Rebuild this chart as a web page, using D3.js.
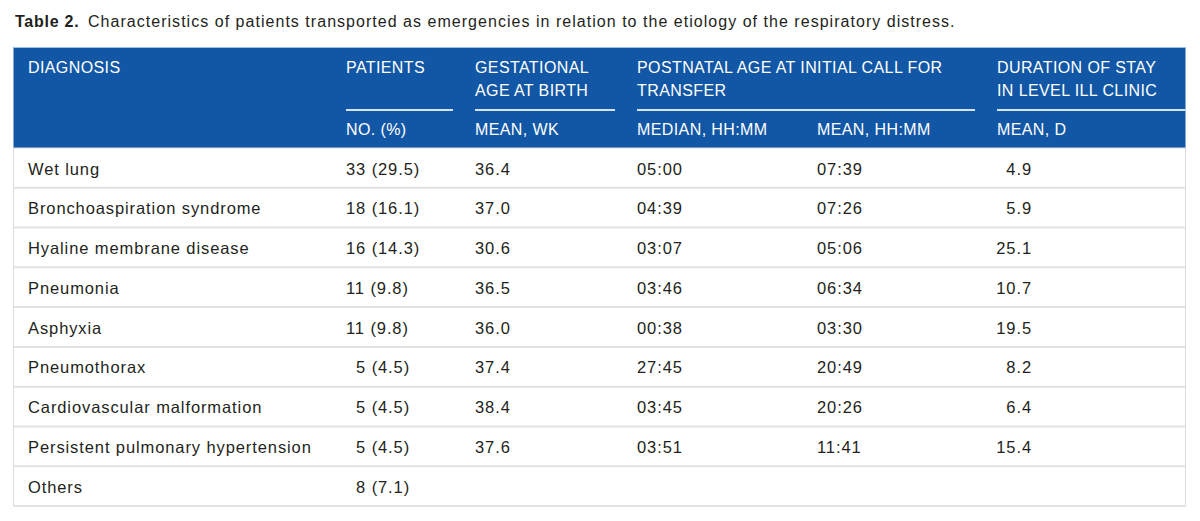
<!DOCTYPE html>
<html>
<head>
<meta charset="utf-8">
<script src="https://cdn.jsdelivr.net/npm/d3@7"></script>
<style>
  html, body { margin: 0; padding: 0; background: #fff; }
  svg { display: block; font-family: "Liberation Sans", Arial, Helvetica, sans-serif; }
</style>
</head>
<body>
<svg id="chart" width="1200" height="521"></svg>
<script>
// ---------- data ----------
const titleBold = "Table 2.";
const titleText = "Characteristics of patients transported as emergencies in relation to the etiology of the respiratory distress.";

const diagnoses = [
  "Wet lung",
  "Bronchoaspiration syndrome",
  "Hyaline membrane disease",
  "Pneumonia",
  "Asphyxia",
  "Pneumothorax",
  "Cardiovascular malformation",
  "Persistent pulmonary hypertension",
  "Others"
];
const patients = ["33 (29.5)", "18 (16.1)", "16 (14.3)", "11 (9.8)", "11 (9.8)", "5 (4.5)", "5 (4.5)", "5 (4.5)", "8 (7.1)"];
const gestationalAge = ["36.4", "37.0", "30.6", "36.5", "36.0", "37.4", "38.4", "37.6", ""];
const postnatalMedian = ["05:00", "04:39", "03:07", "03:46", "00:38", "27:45", "03:45", "03:51", ""];
const postnatalMean = ["07:39", "07:26", "05:06", "06:34", "03:30", "20:49", "20:26", "11:41", ""];
const stayMean = ["4.9", "5.9", "25.1", "10.7", "19.5", "8.2", "6.4", "15.4", ""];

const headerGroups = [
  { key: "diag", lines: ["DIAGNOSIS"], from: "diag", to: "diag", rule: false },
  { key: "pat", lines: ["PATIENTS"], from: "pat", to: "pat", rule: true },
  { key: "ga", lines: ["GESTATIONAL", "AGE AT BIRTH"], from: "ga", to: "ga", rule: true },
  { key: "pn", lines: ["POSTNATAL AGE AT INITIAL CALL FOR", "TRANSFER"], from: "pnMed", to: "pnMean", rule: true },
  { key: "stay", lines: ["DURATION OF STAY", "IN LEVEL ILL CLINIC"], from: "stay", to: "stay", rule: true }
];
const subHeaders = [
  { col: "pat", text: "NO. (%)" },
  { col: "ga", text: "MEAN, WK" },
  { col: "pnMed", text: "MEDIAN, HH:MM" },
  { col: "pnMean", text: "MEAN, HH:MM" },
  { col: "stay", text: "MEAN, D" }
];

// ---------- layout ----------
const tableLeft = 13.5, tableRight = 1185.5;
const headerTop = 47, headerBottom = 148, tableBottom = 506;
const colKeys = ["diag", "pat", "ga", "pnMed", "pnMean", "stay"];
const colStart = d3.scaleOrdinal().domain(colKeys).range([28, 346, 475, 637, 817, 997]);
const colEnd = d3.scaleOrdinal().domain(colKeys).range([324, 453, 615, 795, 975, tableRight]);

const svg = d3.select("#chart");
const blue = "#1257a5";
const ink = "#231f20";
const bodySize = 16.5, bodySpacing = 0.9, headSpacing = 0.4;

// title
const title = svg.append("text").attr("x", 15).attr("y", 26.5)
  .attr("font-size", 16).attr("fill", ink);
title.append("tspan").attr("font-weight", "bold").attr("letter-spacing", 0.75).text(titleBold);
title.append("tspan").attr("x", 88).attr("letter-spacing", 1.03).text(titleText);

// header background
svg.append("rect").attr("x", tableLeft).attr("y", headerTop)
  .attr("width", tableRight - tableLeft).attr("height", headerBottom - headerTop)
  .attr("fill", blue);
svg.append("line").attr("x1", tableLeft).attr("x2", tableRight)
  .attr("y1", headerTop + 0.5).attr("y2", headerTop + 0.5)
  .attr("stroke", "#9fc3e6").attr("stroke-width", 1);

// header groups
const hg = svg.selectAll("g.hgroup").data(headerGroups).join("g").attr("class", "hgroup");
hg.each(function(d) {
  const g = d3.select(this);
  d.lines.forEach((ln, i) => {
    g.append("text").attr("x", colStart(d.from)).attr("y", 72.5 + i * 23)
      .attr("font-size", 16).attr("letter-spacing", headSpacing)
      .attr("fill", "#ffffff").text(ln);
  });
  if (d.rule) {
    g.append("line").attr("x1", colStart(d.from)).attr("x2", colEnd(d.to))
      .attr("y1", 110).attr("y2", 110)
      .attr("stroke", "#d4e3f4").attr("stroke-width", 2);
  }
});

svg.selectAll("text.sub").data(subHeaders).join("text").attr("class", "sub")
  .attr("x", d => colStart(d.col)).attr("y", 134.5)
  .attr("font-size", 16).attr("letter-spacing", headSpacing)
  .attr("fill", "#ffffff").text(d => d.text);

// body
const y = d3.scaleBand().domain(diagnoses).range([headerBottom, tableBottom]);

svg.append("rect").attr("x", tableLeft).attr("y", headerBottom)
  .attr("width", tableRight - tableLeft).attr("height", tableBottom - headerBottom)
  .attr("fill", "#fff").attr("stroke", "#dcdcdc").attr("stroke-width", 1);

svg.selectAll("line.sep").data(diagnoses).join("line").attr("class", "sep")
  .attr("x1", tableLeft).attr("x2", tableRight)
  .attr("y1", d => y(d) + y.bandwidth()).attr("y2", d => y(d) + y.bandwidth())
  .attr("stroke", "#e2e2e2").attr("stroke-width", 2);

const digitPad = s => s.replace(/^(\d) /, "\u2007$1 ");
const rows = diagnoses.map((d, i) => ({
  diag: d,
  pat: digitPad(patients[i]),
  ga: gestationalAge[i],
  pnMed: postnatalMedian[i],
  pnMean: postnatalMean[i],
  stay: stayMean[i]
}));

const rg = svg.selectAll("g.row").data(rows).join("g").attr("class", "row")
  .attr("transform", d => `translate(0,${y(d.diag) + 26.5})`);

["diag", "pat", "ga", "pnMed", "pnMean"].forEach(k => {
  rg.append("text").attr("x", colStart(k)).attr("y", 0)
    .attr("font-size", bodySize).attr("letter-spacing", bodySpacing).attr("fill", ink)
    .style("white-space", "pre")
    .text(d => d[k]);
});
rg.append("text").attr("x", 1032).attr("y", 0)
  .attr("font-size", bodySize).attr("letter-spacing", bodySpacing).attr("fill", ink)
  .attr("text-anchor", "end")
  .text(d => d.stay);
</script>
</body>
</html>
